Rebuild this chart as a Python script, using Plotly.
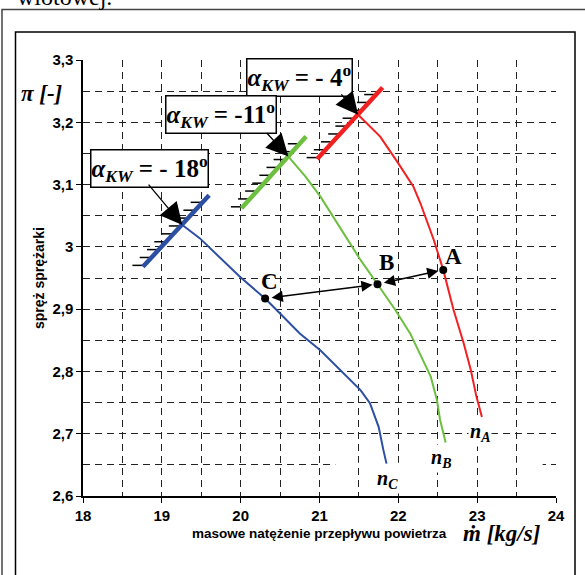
import plotly.graph_objects as go

# ---------------- data ----------------
# compressor speed lines (n_A, n_B, n_C): mass flow [kg/s] vs pressure ratio [-]
nA_x = [21.49, 21.77, 22.00, 22.11, 22.19, 22.28, 22.36, 22.45, 22.51, 22.57, 22.70, 22.83, 22.92, 22.99, 23.06]
nA_y = [3.212, 3.177, 3.134, 3.113, 3.097, 3.070, 3.043, 3.011, 2.987, 2.963, 2.899, 2.845, 2.802, 2.760, 2.727]
nB_x = [20.605, 20.82, 21.01, 21.26, 21.52, 21.736, 21.96, 22.15, 22.30, 22.41, 22.49, 22.53, 22.60]
nB_y = [3.145, 3.113, 3.081, 3.032, 2.979, 2.940, 2.899, 2.861, 2.821, 2.792, 2.754, 2.722, 2.686]
nC_x = [19.26, 19.48, 19.99, 20.31, 20.50, 20.75, 21.01, 21.52, 21.64, 21.75, 21.81, 21.85]
nC_y = [3.035, 3.014, 2.952, 2.917, 2.893, 2.861, 2.834, 2.770, 2.749, 2.711, 2.674, 2.652]

# surge lines for the inlet guide vane angles
surgeA_x = [20.97, 21.80]
surgeA_y = [3.141, 3.256]
surgeB_x = [20.01, 20.83]
surgeB_y = [3.062, 3.177]
surgeC_x = [18.76, 19.60]
surgeC_y = [2.968, 3.083]
surge_angles = ["- 4", "-11", "- 18"]

# operating points
point_labels = ["A", "B", "C"]
point_x = [22.57, 21.736, 20.31]
point_y = [2.963, 2.940, 2.917]

x_ticks = [18, 19, 20, 21, 22, 23, 24]
y_ticks = [2.6, 2.7, 2.8, 2.9, 3.0, 3.1, 3.2, 3.3]
y_ticktext = ["2,6", "2,7", "2,8", "2,9", "3", "3,1", "3,2", "3,3"]

# ---------------- styling ----------------
RED, GREEN, BLUE = "#f22020", "#6cbf3f", "#2d4fa3"
SERIF = "Liberation Serif, Times New Roman, serif"
SANS = "Liberation Sans, Arial, sans-serif"
NARROW = "Liberation Sans Narrow, Arial Narrow, Liberation Sans, Arial, sans-serif"
W, H = 585, 575
PL, PR, PT, PB = 83, 556, 60, 496


def pxx(px):
    return (px - PL) / (PR - PL)


def pxy(py):
    return (PB - py) / (PB - PT)


fig = go.Figure()

# hatches on the surge lines
HATCH_FRACS = [0.02, 0.13, 0.24, 0.35, 0.46, 0.57, 0.68, 0.79, 0.90]
HATCH_LEN = 0.15
hx, hy = [], []
for sx, sy in [(surgeA_x, surgeA_y), (surgeB_x, surgeB_y), (surgeC_x, surgeC_y)]:
    for f in HATCH_FRACS:
        xx = sx[0] + f * (sx[1] - sx[0])
        yy = sy[0] + f * (sy[1] - sy[0])
        hx += [xx - HATCH_LEN, xx + 0.01, None]
        hy += [yy, yy, None]
fig.add_trace(go.Scatter(x=hx, y=hy, mode="lines", line=dict(color="black", width=1.5),
                         hoverinfo="skip", showlegend=False))

for sx, sy, c in [(surgeA_x, surgeA_y, RED), (surgeB_x, surgeB_y, GREEN), (surgeC_x, surgeC_y, BLUE)]:
    fig.add_trace(go.Scatter(x=sx, y=sy, mode="lines", line=dict(color=c, width=4.5),
                             showlegend=False))

for cx, cy, c in [(nA_x, nA_y, RED), (nB_x, nB_y, GREEN), (nC_x, nC_y, BLUE)]:
    fig.add_trace(go.Scatter(x=cx, y=cy, mode="lines",
                             line=dict(color=c, width=2),
                             showlegend=False))

fig.add_trace(go.Scatter(x=point_x, y=point_y, mode="markers",
                         marker=dict(color="black", size=8), showlegend=False))

annotations = []

# boxed angle labels and their arrows
box_pos = [(299, 77), (221, 115), (149.5, 168)]
arrow_off = [(-18, -22), (-23, -25), (-35, -42)]
tips = [(nA_x[0], nA_y[0]), (nB_x[0], nB_y[0]), (nC_x[0], nC_y[0])]
for ang, (bx, by), (ox, oy), (tx, ty) in zip(surge_angles, box_pos, arrow_off, tips):
    annotations.append(dict(
        text="<b><i>α<sub>KW</sub></i> = " + ang + "<sup>o</sup></b>",
        xref="paper", yref="paper", x=pxx(bx), y=pxy(by), xanchor="center", yanchor="middle",
        showarrow=False, font=dict(family=SERIF, size=25, color="black"),
        bgcolor="white", bordercolor="black", borderwidth=1.5, borderpad=0))
    annotations.append(dict(
        text="", x=tx, y=ty, xref="x", yref="y", ax=ox, ay=oy,
        showarrow=True, arrowhead=2, arrowsize=3.4, arrowwidth=1.3, arrowcolor="black"))

# double arrows between operating points
for i0, i1 in [(0, 1), (1, 2)]:
    annotations.append(dict(
        text="", x=point_x[i0], y=point_y[i0], ax=point_x[i1], ay=point_y[i1],
        xref="x", yref="y", axref="x", ayref="y",
        showarrow=True, arrowside="end+start", arrowhead=2, startarrowhead=2,
        arrowsize=1.5, startarrowsize=1.5, arrowwidth=1.5, arrowcolor="black",
        standoff=5, startstandoff=5))

# point letters
letter_off = [(10, -13), (9, -22), (4, -17)]
for lab, x0, y0, (ox, oy) in zip(point_labels, point_x, point_y, letter_off):
    annotations.append(dict(
        text="<b>" + lab + "</b>", x=x0, y=y0, xref="x", yref="y", ax=ox, ay=oy,
        showarrow=True, arrowwidth=0.1, arrowcolor="rgba(0,0,0,0)",
        font=dict(family=SERIF, size=23, color="black")))

# speed line labels
n_labels = [("A", 480, 432), ("B", 441, 458), ("C", 387.5, 479.5)]
for lab, px, py in n_labels:
    annotations.append(dict(
        text="<b><i>n<sub>" + lab + "</sub></i></b>", xref="paper", yref="paper",
        x=pxx(px), y=pxy(py), xanchor="center", yanchor="middle", showarrow=False,
        font=dict(family=SERIF, size=20, color="black"), bgcolor="white"))

# axis titles
annotations.append(dict(text="<b><i>π [-]</i></b>", xref="paper", yref="paper",
                        x=pxx(42), y=pxy(93), xanchor="center", yanchor="middle",
                        showarrow=False, font=dict(family=SERIF, size=23, color="black")))
annotations.append(dict(text="<b>spręż sprężarki</b>", xref="paper", yref="paper",
                        x=pxx(39), y=pxy(278), xanchor="center", yanchor="middle",
                        textangle=-90, showarrow=False,
                        font=dict(family=SANS, size=14, color="black")))
annotations.append(dict(text="<b>masowe natężenie przepływu powietrza</b>", xref="paper",
                        yref="paper", x=pxx(319), y=pxy(533), xanchor="center",
                        yanchor="middle", showarrow=False,
                        font=dict(family=SANS, size=13.5, color="black")))
annotations.append(dict(text="<b><i>ṁ [kg/s]</i></b>", xref="paper", yref="paper",
                        x=pxx(502), y=pxy(533), xanchor="center", yanchor="middle",
                        showarrow=False, font=dict(family=SERIF, size=23, color="black")))
# cut-off document text at the very top
annotations.append(dict(text="wlotowej.", xref="paper", yref="paper",
                        x=pxx(15), y=pxy(-3), xanchor="left", yanchor="middle",
                        showarrow=False, font=dict(family=SERIF, size=24, color="black")))

shapes = [
    # outer and inner document frames
    dict(type="rect", xref="paper", yref="paper", x0=pxx(2), x1=pxx(600), y0=pxy(600), y1=pxy(9.5),
         line=dict(color="#444444", width=1.5), layer="below"),
    dict(type="rect", xref="paper", yref="paper", x0=pxx(15.5), x1=pxx(575), y0=pxy(600), y1=pxy(32),
         line=dict(color="black", width=1.5), layer="below"),
    # gap in the 2.65 gridline behind the speed labels
    dict(type="rect", xref="x", yref="y", x0=21.2, x1=23.83, y0=2.6465, y1=2.6535,
         fillcolor="white", line=dict(width=0), layer="between"),
]

grid_common = dict(gridcolor="#222222", gridwidth=1, griddash="7px,5px")

fig.update_layout(
    width=W, height=H,
    margin=dict(l=PL, r=W - PR, t=PT, b=H - PB),
    paper_bgcolor="white", plot_bgcolor="white",
    showlegend=False,
    annotations=annotations,
    shapes=shapes,
    xaxis=dict(range=[18, 24], tickvals=x_ticks,
               ticktext=["<b>%s</b>" % v for v in x_ticks],
               showline=True, linecolor="black", linewidth=1.5,
               ticks="outside", ticklen=5, tickcolor="black", tickwidth=1.2,
               showgrid=True, **grid_common,
               minor=dict(dtick=0.5, showgrid=True, gridcolor="#222222", gridwidth=1,
                          griddash="7px,5px", ticks=""),
               tickfont=dict(family=NARROW, size=15, color="black"),
               zeroline=False, fixedrange=True),
    yaxis=dict(range=[2.6, 3.3], tickvals=y_ticks,
               ticktext=["<b>%s</b>" % t for t in y_ticktext],
               showline=True, linecolor="black", linewidth=1.5,
               ticks="outside", ticklen=5, tickcolor="black", tickwidth=1.2,
               showgrid=True, **grid_common,
               minor=dict(dtick=0.05, showgrid=True, gridcolor="#222222", gridwidth=1,
                          griddash="7px,5px", ticks=""),
               tickfont=dict(family=NARROW, size=15, color="black"),
               zeroline=False, fixedrange=True),
)

fig.write_html("out.html", config={"displayModeBar": False},
               post_script="document.body.style.margin='0';document.body.style.padding='0';")
